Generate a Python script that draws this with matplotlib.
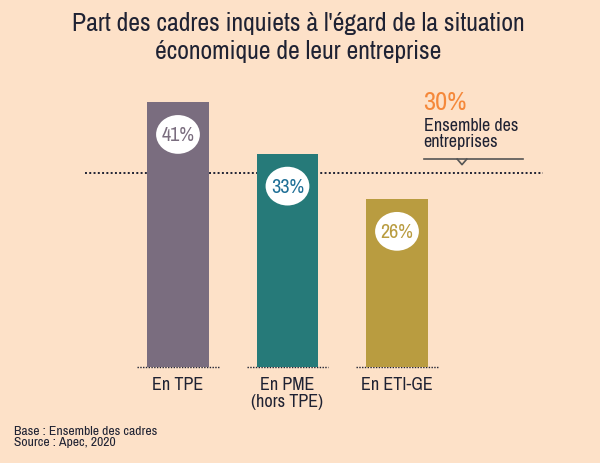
import matplotlib
matplotlib.use("Agg")
import matplotlib.pyplot as plt
from matplotlib.patches import Ellipse
from matplotlib import font_manager

categories = ["En TPE", "En PME\n(hors TPE)", "En ETI-GE"]
values = [41, 33, 26]
labels = ["41%", "33%", "26%"]
overall = 30

bg = "#FDE1C8"
dark = "#1F2233"
bar_colors = ["#7A6D7F", "#267A79", "#B99C40"]
text_colors = ["#7A6D7F", "#1F6F96", "#B99C40"]

names = sorted({f.name for f in font_manager.fontManager.ttflist})
narrow = [n for n in names if "Narrow" in n or "Condensed" in n]
fam = narrow[0] if narrow else "DejaVu Sans"
plt.rcParams['font.family'] = [fam, 'DejaVu Sans']

fig = plt.figure(figsize=(6, 4.64), dpi=100, facecolor=bg)
ax = fig.add_axes([0.2054, 0.2069, 0.5475, 0.6265])
ax.set_facecolor(bg)
ax.set_xlim(-0.5, 2.5)
ax.set_ylim(0, 45)
ax.axis("off")

x = range(len(values))
ax.bar(x, values, width=0.566, color=bar_colors, linewidth=0, zorder=2)

# reference line
ax.plot([-0.85, 3.33], [overall, overall], linestyle=(0, (1, 1.2)), color=dark,
        lw=1.4, clip_on=False, zorder=1)

for i, v in enumerate(values):
    ax.add_patch(Ellipse((i, v - 5), 0.40, 6.0, facecolor="white", edgecolor="none", zorder=3))
    ax.text(i, v - 5, labels[i], ha="center", va="center", fontsize=14.5,
            color=text_colors[i], zorder=4)
    ax.plot([i - 0.37, i + 0.37], [0, 0], linestyle=(0, (1, 1)), color=dark,
            lw=1, clip_on=False, zorder=1)
    ax.text(i, -1.4, categories[i], ha="center", va="top", fontsize=13,
            color=dark, linespacing=1.05)

fig.text(0.497, 0.975, "Part des cadres inquiets à l'égard de la situation\néconomique de leur entreprise",
         ha="center", va="top", fontsize=18.5, color=dark, linespacing=1.28)

fig.text(0.706, 0.78, "30%", ha="left", va="center", fontsize=19, fontweight="bold", color="#F5883A")
fig.text(0.706, 0.711, "Ensemble des\nentreprises", ha="left", va="center", fontsize=13,
         color=dark, linespacing=1.05)
fig.lines.append(plt.Line2D([0.706, 0.872], [0.655, 0.655], color="#555555", lw=1.2,
                            transform=fig.transFigure))
fig.lines.append(plt.Line2D([0.762, 0.770, 0.778], [0.655, 0.643, 0.655], color="#555555",
                            lw=1.2, transform=fig.transFigure))

fig.text(0.023, 0.058, "Base : Ensemble des cadres\nSource : Apec, 2020", ha="left", va="center",
         fontsize=9.8, color=dark, linespacing=0.95)

fig.savefig("out.png", dpi=100, facecolor=bg)
